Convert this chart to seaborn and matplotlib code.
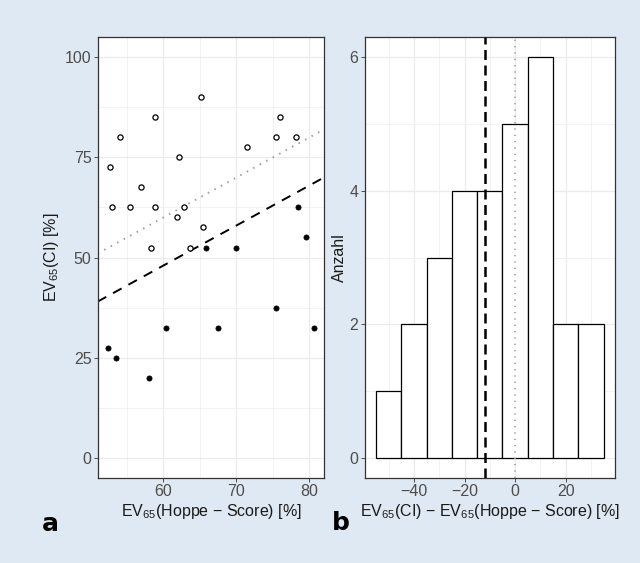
import numpy as np
import pandas as pd
import matplotlib
matplotlib.use("Agg")
import matplotlib.pyplot as plt
from matplotlib.ticker import MultipleLocator
import seaborn as sns

# panel a: scatter data (hollow = higher CI estimate, filled = lower)
hoppe_open = [52.7, 52.9, 54.1, 55.4, 56.9, 58.3, 58.9, 58.9, 61.8, 62.1,
              62.8, 63.6, 65.2, 65.4, 71.5, 75.4, 75.9, 78.2]
ci_open = [72.5, 62.5, 80.0, 62.5, 67.5, 52.5, 85.0, 62.5, 60.0, 75.0,
           62.5, 52.5, 90.0, 57.5, 77.5, 80.0, 85.0, 80.0]
hoppe_filled = [52.4, 53.5, 58.0, 60.3, 65.9, 67.5, 70.0, 75.4, 78.4, 79.5, 80.6]
ci_filled = [27.5, 25.0, 20.0, 32.5, 52.5, 32.5, 52.5, 37.5, 62.5, 55.0, 32.5]

# panel b: histogram of differences
bin_edges = [-55, -45, -35, -25, -15, -5, 5, 15, 25, 35]
counts = [1, 2, 3, 4, 4, 5, 6, 2, 2]
offset = -12  # mean bias line

sns.set_style("white")
plt.rcParams["font.family"] = ["Liberation Sans", "DejaVu Sans"]
plt.rcParams["mathtext.fontset"] = "custom"
plt.rcParams["mathtext.rm"] = "Liberation Sans"
plt.rcParams["mathtext.it"] = "Liberation Sans:italic"

bg = "#dfe9f3"
grid_c = "#ebebeb"
tick_c = "#4d4d4d"
border_c = "#333333"

fig = plt.figure(figsize=(6.4, 5.63), dpi=100, facecolor=bg)
ax1 = fig.add_axes([0.1527, 0.1515, 0.3536, 0.7822])
ax2 = fig.add_axes([0.5698, 0.1515, 0.3911, 0.7822])

df_open = pd.DataFrame({"x": hoppe_open, "y": ci_open})
df_filled = pd.DataFrame({"x": hoppe_filled, "y": ci_filled})

for ax in (ax1, ax2):
    ax.set_facecolor("white")
    ax.grid(True, which="major", color=grid_c, lw=0.9, zorder=0)
    ax.grid(True, which="minor", color=grid_c, lw=0.45, zorder=0)
    ax.set_axisbelow(True)
    for s in ax.spines.values():
        s.set_color(border_c)
        s.set_linewidth(0.9)
    ax.tick_params(axis="both", which="major", length=3, width=0.6, color=border_c,
                   labelcolor=tick_c, labelsize=11.5, pad=1.5, left=True, bottom=True)
    ax.tick_params(axis="both", which="minor", length=0)

# panel a
ax1.axline((60, 60), slope=1, color="#a0a0a0", lw=1.4, ls=(0, (0.8, 3)), zorder=2)
ax1.axline((60, 60 + offset), slope=1, color="black", lw=1.4, ls=(0, (5, 4)), zorder=2)
sns.scatterplot(data=df_open, x="x", y="y", ax=ax1, marker="o", s=14,
                facecolor="white", edgecolor="black", linewidth=0.9, zorder=3)
sns.scatterplot(data=df_filled, x="x", y="y", ax=ax1, marker="o", s=14,
                color="black", edgecolor="black", linewidth=0.5, zorder=3)
ax1.set_xlim(51, 82)
ax1.set_ylim(-5, 105)
ax1.set_xticks([60, 70, 80])
ax1.set_yticks([0, 25, 50, 75, 100])
ax1.xaxis.set_minor_locator(MultipleLocator(5))
ax1.yaxis.set_minor_locator(MultipleLocator(12.5))
ax1.set_xlabel(r"EV$_{65}$(Hoppe − Score) [%]", fontsize=11.5, color="#1a1a1a", labelpad=2)
ax1.set_ylabel(r"EV$_{65}$(CI) [%]", fontsize=11.5, color="#1a1a1a", labelpad=3)

# panel b
centers = [(a + b) / 2 for a, b in zip(bin_edges[:-1], bin_edges[1:])]
sns.histplot(x=centers, weights=counts, bins=bin_edges, ax=ax2, color="white",
             edgecolor="black", linewidth=0.9, alpha=1, zorder=2)
ax2.axvline(offset, color="black", lw=1.8, ls=(0, (4, 2.2)), zorder=3)
ax2.axvline(0, color="#a0a0a0", lw=1.2, ls=(0, (0.8, 3)), zorder=3)
ax2.set_xlim(-59.5, 39.5)
ax2.set_ylim(-0.3, 6.3)
ax2.set_xticks([-40, -20, 0, 20])
ax2.set_xticklabels(["−40", "−20", "0", "20"])
ax2.set_yticks([0, 2, 4, 6])
ax2.xaxis.set_minor_locator(MultipleLocator(10))
ax2.yaxis.set_minor_locator(MultipleLocator(1))
ax2.set_xlabel(r"EV$_{65}$(CI) − EV$_{65}$(Hoppe − Score) [%]", fontsize=11.5,
               color="#1a1a1a", labelpad=2)
ax2.set_ylabel("Anzahl", fontsize=11.5, color="#1a1a1a", labelpad=2)

fig.text(50.5 / 640, 1 - 524 / 563, "a", fontsize=18, fontweight="bold",
         ha="center", va="center", family="DejaVu Sans", color="black")
fig.text(340.5 / 640, 1 - 523 / 563, "b", fontsize=18, fontweight="bold",
         ha="center", va="center", family="DejaVu Sans", color="black")

fig.savefig("out.png", dpi=100, facecolor=bg)
